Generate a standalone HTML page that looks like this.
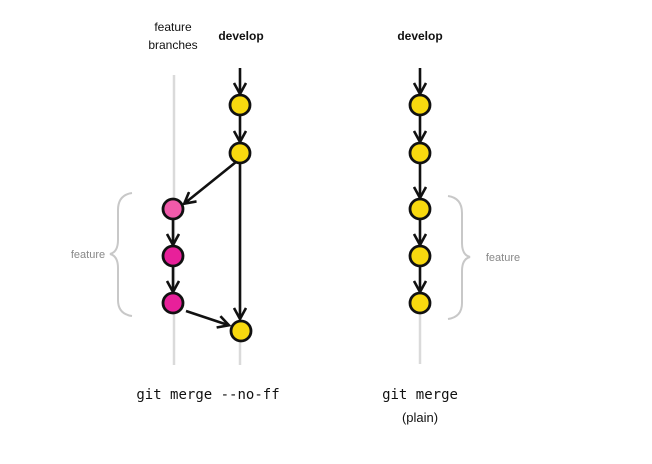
<!DOCTYPE html>
<html><head><style>
body{margin:0;background:#fff;}
svg text{font-family:"Liberation Sans",sans-serif;}
</style></head><body>
<svg width="652" height="459" viewBox="0 0 652 459" xmlns="http://www.w3.org/2000/svg">
<defs>
<marker id="ah" markerWidth="14" markerHeight="14" refX="11" refY="7" orient="auto" markerUnits="userSpaceOnUse">
<path d="M1,1 L12,7 L1,13" fill="none" stroke="#111" stroke-width="2.6"/>
</marker>
</defs>
<line x1="174" y1="75" x2="174" y2="365" stroke="#dadada" stroke-width="2.5"/>
<line x1="240" y1="160" x2="240" y2="365" stroke="#dadada" stroke-width="2.5"/>
<line x1="420" y1="300" x2="420" y2="364" stroke="#dadada" stroke-width="2.5"/>
<text x="173" y="31" font-size="12" text-anchor="middle" fill="#111">feature</text>
<text x="173" y="49" font-size="12" text-anchor="middle" fill="#111">branches</text>
<text x="241" y="40" font-size="12" font-weight="bold" text-anchor="middle" fill="#111">develop</text>
<text x="420" y="40" font-size="12" font-weight="bold" text-anchor="middle" fill="#111">develop</text>
<path d="M132,193 Q118,195 118,210 L118,240 Q118,252 110,254 Q118,256 118,268 L118,300 Q118,314 132,316" fill="none" stroke="#c8c8c8" stroke-width="2"/>
<text x="88" y="258" font-size="11" text-anchor="middle" fill="#888">feature</text>
<path d="M448,196 Q462,198 462,213 L462,243 Q462,255 470,257 Q462,259 462,271 L462,303 Q462,317 448,319" fill="none" stroke="#c8c8c8" stroke-width="2"/>
<text x="503" y="261" font-size="11" text-anchor="middle" fill="#888">feature</text>
<g stroke="#111" stroke-width="2.6" fill="none" marker-end="url(#ah)">
<line x1="240" y1="68" x2="240" y2="93"/>
<line x1="240" y1="116" x2="240" y2="141"/>
<line x1="236" y1="162" x2="185" y2="203"/>
<line x1="240" y1="164" x2="240" y2="318"/>
<line x1="173" y1="220" x2="173" y2="244"/>
<line x1="173" y1="267" x2="173" y2="291"/>
<line x1="186" y1="311" x2="228" y2="325"/>
<line x1="420" y1="68" x2="420" y2="93"/>
<line x1="420" y1="116" x2="420" y2="141"/>
<line x1="420" y1="164" x2="420" y2="197"/>
<line x1="420" y1="220" x2="420" y2="244"/>
<line x1="420" y1="267" x2="420" y2="291"/>
</g>
<g stroke="#111" stroke-width="2.8">
<circle cx="240" cy="105" r="10" fill="#f8d90f"/>
<circle cx="240" cy="153" r="10" fill="#f8d90f"/>
<circle cx="241" cy="331" r="10" fill="#f8d90f"/>
<circle cx="173" cy="209" r="10" fill="#f05aaa"/>
<circle cx="173" cy="256" r="10" fill="#e8209a"/>
<circle cx="173" cy="303" r="10" fill="#e8209a"/>
<circle cx="420" cy="105" r="10" fill="#f8d90f"/>
<circle cx="420" cy="153" r="10" fill="#f8d90f"/>
<circle cx="420" cy="209" r="10" fill="#f8d90f"/>
<circle cx="420" cy="256" r="10" fill="#f8d90f"/>
<circle cx="420" cy="303" r="10" fill="#f8d90f"/>
</g>
<text x="208" y="399" font-size="14" text-anchor="middle" fill="#111" style="font-family:'DejaVu Sans Mono',monospace">git merge --no-ff</text>
<text x="420" y="399" font-size="14" text-anchor="middle" fill="#111" style="font-family:'DejaVu Sans Mono',monospace">git merge</text>
<text x="420" y="422" font-size="13" text-anchor="middle" fill="#111">(plain)</text>
</svg>
</body></html>
